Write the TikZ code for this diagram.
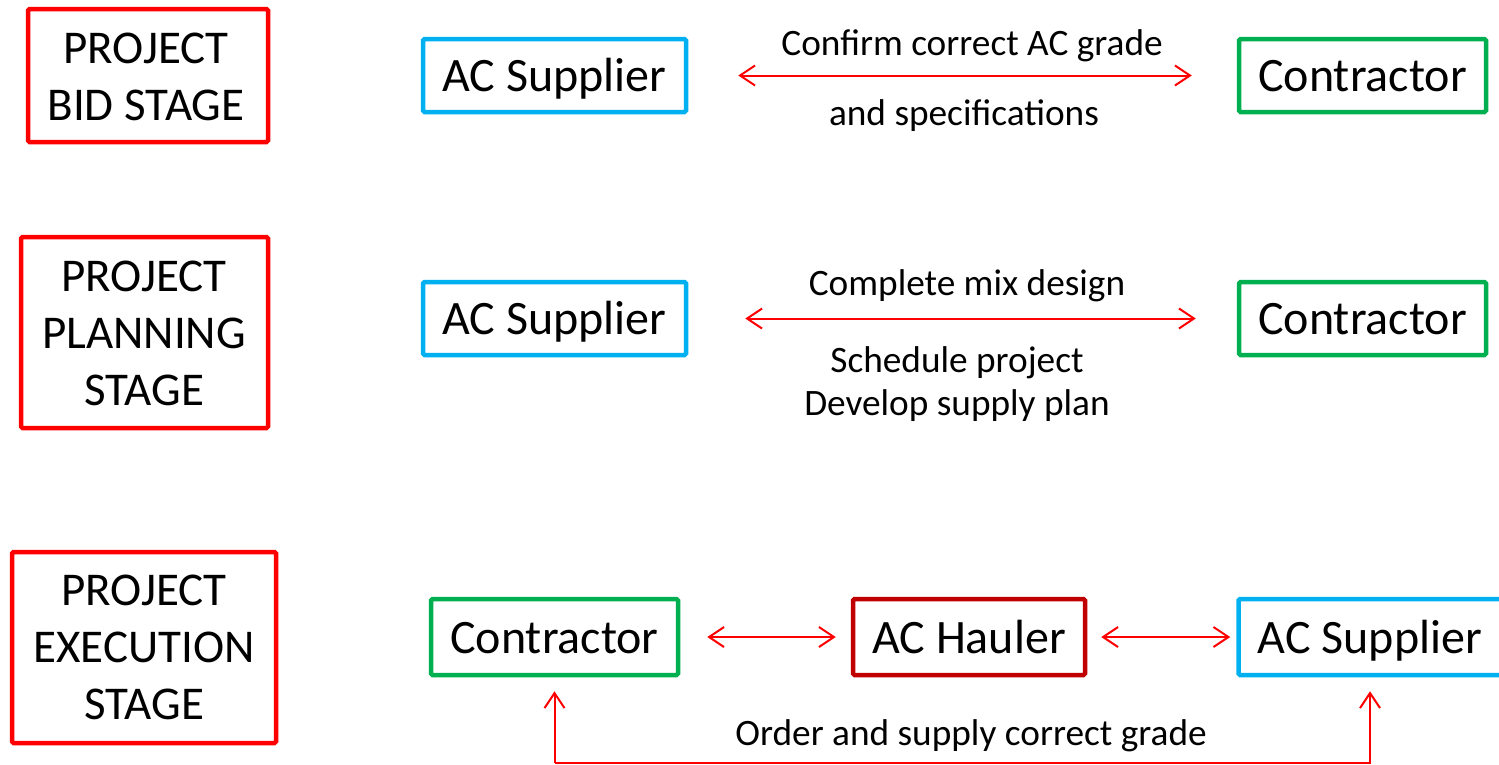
\documentclass[tikz,border=0pt]{standalone}
\usepackage{fontspec}
\setmainfont{Carlito}
\usetikzlibrary{arrows.meta,calc}
\definecolor{stagered}{RGB}{255,0,0}
\definecolor{supcyan}{RGB}{0,176,240}
\definecolor{congreen}{RGB}{0,176,80}
\definecolor{haulred}{RGB}{192,0,0}
\definecolor{linkred}{RGB}{255,0,0}
\tikzset{
  box/.style={draw, line width=4.5pt, rounded corners=1.5pt, inner sep=0pt,
    text height=33pt, text depth=1pt, font=\fontsize{48}{56}\selectfont},
  stagebox/.style={draw=stagered, line width=4.5pt, rounded corners=1.5pt, inner sep=0pt},
  stagetext/.style={align=center, inner sep=0pt, font=\fontsize{47}{57}\selectfont},
  supplier/.style={box, draw=supcyan, minimum width=263pt, minimum height=73pt},
  contractor/.style={box, draw=congreen, minimum width=247pt, minimum height=73pt},
  hauler/.style={box, draw=haulred, minimum width=232pt, minimum height=76pt},
  note/.style={inner sep=0pt, anchor=base, align=center, font=\fontsize{37.3}{43}\selectfont},
  link/.style={draw=linkred, line width=2pt,
    {Straight Barb[length=15pt,width=20pt]}-{Straight Barb[length=15pt,width=20pt]}},
  uplink/.style={draw=linkred, line width=2pt, -{Straight Barb[length=15pt,width=20pt]}}
}
\begin{document}
\begin{tikzpicture}[x=1pt,y=-1pt]
\useasboundingbox (0,0) rectangle (1499,764);

% stage boxes (the text anchor sits on the baseline of the last line)
\node[stagebox, minimum width=240pt, minimum height=133pt] (bid) at (148,75.5) {};
\node[stagetext, anchor=base] (bidtext) at (146,120) {PROJECT\\BID STAGE};
\node[stagebox, minimum width=247pt, minimum height=191pt] (plan) at (144.5,332.5) {};
\node[stagetext, anchor=base] (plantext) at (144,405) {PROJECT\\PLANNING\\STAGE};
\node[stagebox, minimum width=264pt, minimum height=191pt] (exec) at (144,647.5) {};
\node[stagetext, anchor=base] (exectext) at (144,719) {PROJECT\\EXECUTION\\STAGE};

% bid stage
\node[supplier] (sup1) at (554.5,75.5) {AC Supplier};
\node[contractor] (con1) at (1362.5,75.5) {Contractor};
\draw[link] ([xshift=50pt]sup1.east) -- ([xshift=-45pt]con1.west);
\node[note] (n1) at (972,55) {Confirm correct AC grade};
\node[note] (n2) at (964,125) {and specifications};

% planning stage
\node[supplier] (sup2) at (554.5,318.5) {AC Supplier};
\node[contractor] (con2) at (1362.5,318.5) {Contractor};
\draw[link] ([xshift=57pt]sup2.east) -- ([xshift=-41pt]con2.west);
\node[note] (n3) at (967,295) {Complete mix design};
\node[note] (n4) at (957,415) {Schedule project\\Develop supply plan};

% execution stage
\node[contractor, minimum height=76pt] (con3) at (554.5,637) {Contractor};
\node[hauler] (haul) at (969,637) {AC Hauler};
\node[supplier, minimum height=76pt] (sup3) at (1370,637) {AC Supplier};
\draw[link] ([xshift=27pt]con3.east) -- ([xshift=-15pt]haul.west);
\draw[link] ([xshift=14pt]haul.east) -- ([xshift=-6pt]sup3.west);
\coordinate (bot) at (960,763);
\draw[uplink] (con3.south |- bot) -| ([yshift=-14pt]sup3.south);
\draw[uplink] (con3.south |- bot) -- ([yshift=-14pt]con3.south);
\node[note] (n5) at (971,745) {Order and supply correct grade};
\end{tikzpicture}
\end{document}
